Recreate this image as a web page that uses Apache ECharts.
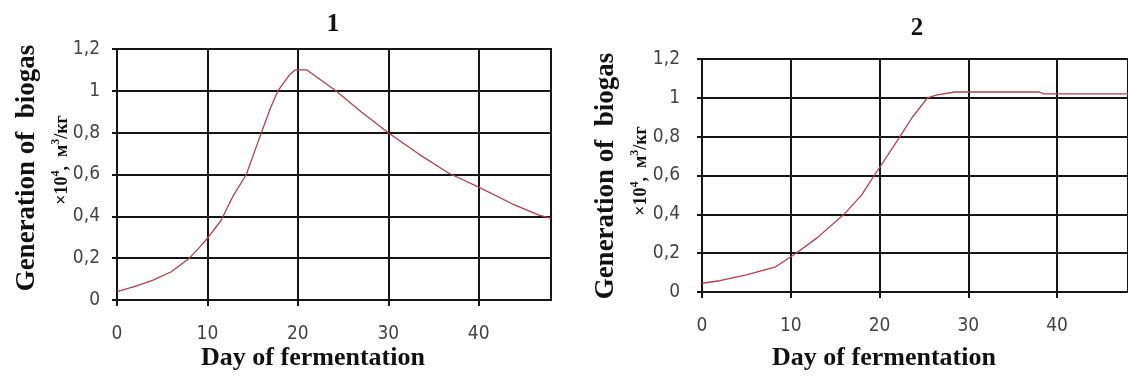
<!DOCTYPE html>
<html><head><meta charset="utf-8">
<script src="https://cdn.jsdelivr.net/npm/echarts@6/dist/echarts.min.js"></script>
<style>html,body{margin:0;padding:0;background:#fff}#c{width:1128px;height:376px}</style>
</head><body><div id="c"></div>
<script>
// Chart 1 data: [day, biogas]
const days1 = [0, 2, 4, 6, 8, 9.2, 10, 11.5, 12.8, 14.3, 15.8, 17, 17.8, 19.1, 19.7, 21, 24.2, 27, 30, 33.3, 36.7, 40, 43.7, 46.6, 48];
const gas1  = [0.04, 0.065, 0.095, 0.135, 0.2, 0.255, 0.295, 0.38, 0.494, 0.6, 0.78, 0.92, 1.0, 1.077, 1.1, 1.1, 1.0, 0.9, 0.8, 0.7, 0.606, 0.54, 0.46, 0.407, 0.39];
// Chart 2 data
const days2 = [0, 2, 5, 8.3, 10.6, 13, 16, 18, 19.4, 20, 22.3, 23.7, 25.4, 26.5, 28.5, 38, 38.5, 48];
const gas2  = [0.045, 0.058, 0.088, 0.13, 0.2, 0.28, 0.4, 0.5, 0.6, 0.64, 0.8, 0.9, 1.0, 1.015, 1.03, 1.03, 1.02, 1.02];
const xTicks = [0, 10, 20, 30, 40];
const titles = ['1', '2'];
const xTitle = 'Day of fermentation';
const yTitle1 = 'Generation of  biogas';

const pair = (xs, ys) => xs.map((x, i) => [x, ys[i]]);
const tickFont = "'Liberation Sans Narrow','Arial Narrow','DejaVu Sans Condensed',sans-serif";
const serif = "'Liberation Serif','DejaVu Serif',serif";
const gridColor = '#151515';

const grids = [
  {left: 117, top: 49, width: 434, height: 251},
  {left: 702, top: 59, width: 433, height: 233}
];

function xAxis(i) {
  return {
    type: 'value', gridIndex: i, min: 0, max: 48, interval: 10,
    axisLine: {show: true, onZero: false, lineStyle: {color: gridColor, width: 2}},
    axisTick: {show: true, length: 6, lineStyle: {color: gridColor, width: 2}, customValues: xTicks},
    axisLabel: {customValues: xTicks, color: '#444', fontFamily: tickFont, fontSize: 19, margin: 25},
    splitLine: {show: true, lineStyle: {color: gridColor, width: 2}}
  };
}
function yAxis(i) {
  return {
    type: 'value', gridIndex: i, min: 0, max: 1.2, interval: 0.2,
    axisLine: {show: true, lineStyle: {color: gridColor, width: 2}},
    axisTick: {show: true, length: 5, lineStyle: {color: gridColor, width: 2}},
    axisLabel: {color: '#444', fontFamily: tickFont, fontSize: 19, margin: i === 0 ? 17 : 22,
      formatter: v => String(Math.round(v * 10) / 10).replace('.', ',')},
    splitLine: {show: true, lineStyle: {color: gridColor, width: 2}}
  };
}

const rich2 = {
  b: {fontFamily: serif, fontWeight: 'bold', fontSize: 18, fill: '#111'},
  s: {fontFamily: serif, fontWeight: 'bold', fontSize: 12, fill: '#111', padding: [0, 0, 12, 0]}
};
function yTitleLines(x1, y1, x2, y2) {
  return [
    {type: 'text', x: x1, y: y1, rotation: Math.PI / 2,
      style: {text: yTitle1, font: "bold 27px 'Liberation Serif',serif", fill: '#111', align: 'center', verticalAlign: 'middle'}},
    {type: 'text', x: x2, y: y2, rotation: Math.PI / 2,
      style: {text: '{b|×10}{s|4}{b|,  м}{s|3}{b|/кг}', rich: rich2, align: 'center', verticalAlign: 'middle', fill: '#111'}}
  ];
}

const chart = echarts.init(document.getElementById('c'), null, {renderer: 'canvas'});
chart.setOption({
  animation: false,
  backgroundColor: '#fff',
  grid: grids.map(g => Object.assign({show: true, borderColor: gridColor, borderWidth: 2, backgroundColor: 'transparent'}, g)),
  xAxis: [xAxis(0), xAxis(1)],
  yAxis: [yAxis(0), yAxis(1)],
  graphic: [
    ...yTitleLines(27, 168, 62, 160),
    ...yTitleLines(606, 176, 641, 171),
    {type: 'text', x: 333, y: 24, style: {text: titles[0], font: "bold 26px 'Liberation Serif',serif", fill: '#111', align: 'center', verticalAlign: 'middle'}},
    {type: 'text', x: 917, y: 29, style: {text: titles[1], font: "bold 25px 'Liberation Serif',serif", fill: '#111', align: 'center', verticalAlign: 'middle'}},
    {type: 'text', x: 313, y: 358, style: {text: xTitle, font: "bold 26px 'Liberation Serif',serif", fill: '#111', align: 'center', verticalAlign: 'middle'}},
    {type: 'text', x: 884, y: 358, style: {text: xTitle, font: "bold 26px 'Liberation Serif',serif", fill: '#111', align: 'center', verticalAlign: 'middle'}}
  ],
  series: [
    {type: 'line', xAxisIndex: 0, yAxisIndex: 0, data: pair(days1, gas1), showSymbol: false, smooth: false,
      lineStyle: {color: '#b0404c', width: 1.3}},
    {type: 'line', xAxisIndex: 1, yAxisIndex: 1, data: pair(days2, gas2), showSymbol: false, smooth: false,
      lineStyle: {color: '#b0404c', width: 1.3}}
  ]
});
</script></body></html>
